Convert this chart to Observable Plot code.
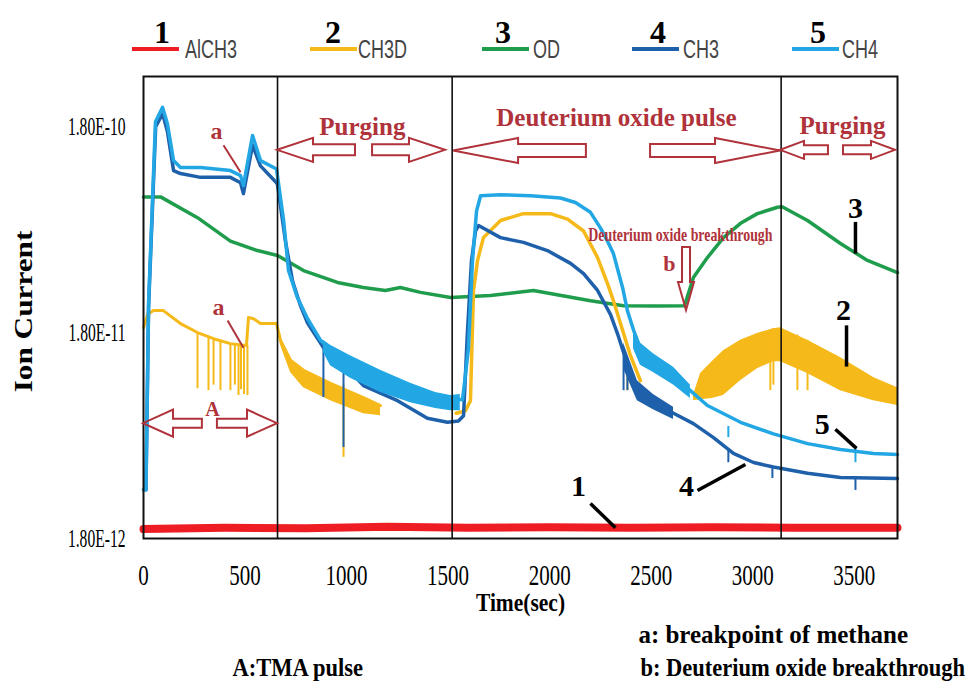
<!DOCTYPE html>
<html><head><meta charset="utf-8">
<script src="https://cdn.jsdelivr.net/npm/d3@7"></script>
<script src="https://cdn.jsdelivr.net/npm/@observablehq/plot@0.6"></script>
<style>
body{margin:0;background:#fff;}
#wrap{position:relative;width:973px;height:686px;overflow:hidden;background:#fff;}
#wrap svg{position:absolute;left:0;top:0;}
.lg-line{position:absolute;height:4px;top:47px;}
.lg-num{position:absolute;width:40px;text-align:center;font:bold 32px "Liberation Serif",serif;line-height:32px;color:#000;top:16px;}
.lg-txt{position:absolute;font:25px "Liberation Sans",sans-serif;line-height:25px;color:#444;transform:scaleX(0.72);transform-origin:left center;white-space:nowrap;top:37px;}
</style></head><body><div id="wrap"></div>
<script>
// ---------- data (time in s, ion current in A) ----------
const xTicks = [0, 500, 1000, 1500, 2000, 2500, 3000, 3500];
const yTicks = [1.8e-12, 1.8e-11, 1.8e-10];
const seriesNames = ["AlCH3", "CH3D", "OD", "CH3", "CH4"];
const seriesNums = ["1", "2", "3", "4", "5"];
const seriesColors = ["#ee1d23", "#f6b91a", "#1f9d4c", "#1f60ab", "#22a7e4"];
const phaseBounds = [660, 1520, 3140];

const alch3 = [[0,2.0e-12],[400,2.03e-12],[800,2.02e-12],[1200,2.05e-12],[1600,2.03e-12],[2000,2.04e-12],[2400,2.03e-12],[2800,2.04e-12],[3200,2.03e-12],[3713,2.03e-12]];

const od = [[0,8.2e-11],[84,8.2e-11],[266,6.5e-11],[428,5.0e-11],[561,4.5e-11],[660,4.26e-11],[788,3.6e-11],[955,3.15e-11],[1083,2.98e-11],[1191,2.88e-11],[1265,2.98e-11],[1364,2.82e-11],[1512,2.66e-11],[1709,2.72e-11],[1920,2.88e-11],[2201,2.57e-11],[2364,2.43e-11],[2521,2.42e-11],[2664,2.43e-11],[2708,3.33e-11],[2777,4.16e-11],[2856,5.2e-11],[2940,6.1e-11],[3023,6.8e-11],[3122,7.3e-11],[3145,7.35e-11],[3270,6.3e-11],[3432,4.87e-11],[3565,4.03e-11],[3713,3.52e-11]];

const ch4 = [[0,3.1e-12],[12,3.1e-12],[25,2.5e-11],[59,1.9e-10],[94,2.23e-10],[118,1.85e-10],[148,1.23e-10],[182,1.14e-10],[281,1.14e-10],[428,1.10e-10],[478,1.04e-10],[492,9.3e-11],[537,1.63e-10],[576,1.23e-10],[655,1.12e-10],[690,6.3e-11],[714,3.6e-11],[758,2.66e-11],[808,2.1e-11],[872,1.65e-11],[921,1.5e-11],[1019,1.32e-11],[1167,1.12e-11],[1315,9.8e-12],[1438,8.9e-12],[1512,8.6e-12],[1571,8.5e-12],[1600,1.5e-11],[1620,4.0e-11],[1640,7.0e-11],[1660,8.3e-11],[1758,8.4e-11],[1906,8.3e-11],[2053,8.1e-11],[2127,7.7e-11],[2201,6.9e-11],[2250,5.8e-11],[2285,5.0e-11],[2314,4.35e-11],[2359,2.98e-11],[2383,2.3e-11],[2413,1.85e-11],[2447,1.5e-11],[2511,1.32e-11],[2610,1.14e-11],[2693,9.4e-12],[2777,7.96e-12],[2940,6.6e-12],[3102,5.8e-12],[3270,5.2e-12],[3432,4.87e-12],[3595,4.66e-12],[3713,4.6e-12]];
const ch4BandA = [[886,1.44e-11,1.65e-11],[921,1.24e-11,1.56e-11],[1019,1.08e-11,1.39e-11],[1167,9.2e-12,1.18e-11],[1315,8.2e-12,1.02e-11],[1438,7.7e-12,9.2e-12],[1512,7.5e-12,8.9e-12],[1560,7.5e-12,9.0e-12]];
const ch4BandB = [[2413,1.5e-11,1.95e-11],[2447,1.25e-11,1.6e-11],[2511,1.15e-11,1.42e-11],[2610,1.0e-11,1.22e-11],[2693,8.6e-12,1.0e-11]];
const ch4Spikes = [[2880,5.56e-12,6.3e-12],[3506,4.2e-12,5.0e-12]];

const ch3 = [[0,3.1e-12],[12,3.1e-12],[25,2.4e-11],[60,1.8e-10],[94,2.08e-10],[118,1.7e-10],[148,1.10e-10],[182,1.064e-10],[281,1.02e-10],[428,1.02e-10],[478,9.6e-11],[492,8.5e-11],[537,1.46e-10],[576,1.16e-10],[655,9.6e-11],[660,9.4e-11],[699,5.0e-11],[734,3.2e-11],[773,2.43e-11],[808,2.0e-11],[886,1.52e-11],[955,1.36e-11],[1083,9.95e-12],[1251,8.4e-12],[1398,6.9e-12],[1497,6.6e-12],[1551,6.7e-12],[1576,7.1e-12],[1595,1.8e-11],[1615,4.0e-11],[1635,5.6e-11],[1650,5.95e-11],[1758,5.2e-11],[1871,4.93e-11],[1989,4.5e-11],[2103,3.9e-11],[2167,3.48e-11],[2236,2.88e-11],[2300,2.2e-11],[2334,1.78e-11],[2364,1.44e-11],[2432,9.4e-12],[2511,8.3e-12],[2610,7.3e-12],[2708,6.5e-12],[2807,5.56e-12],[2905,4.66e-12],[3004,4.21e-12],[3102,4.0e-12],[3270,3.73e-12],[3432,3.56e-12],[3713,3.52e-12]];
const ch3Band = [[2364,1.2e-11,1.6e-11],[2432,8.4e-12,1.05e-11],[2511,7.6e-12,9.0e-12],[2610,6.8e-12,7.8e-12]];
const ch3Spikes = [[886,8.7e-12,1.52e-11],[985,4.98e-12,1.3e-11],[2364,9.4e-12,1.44e-11],[2383,9.4e-12,1.3e-11],[2880,4.2e-12,4.9e-12],[3097,3.52e-12,4.0e-12],[3506,3.08e-12,3.6e-12]];

const ch3dA = [[0,1.9e-11],[20,2.2e-11],[49,2.3e-11],[98,2.3e-11],[182,1.99e-11],[266,1.8e-11],[345,1.68e-11],[428,1.59e-11],[492,1.56e-11],[507,1.56e-11],[517,2.13e-11],[542,2.1e-11],[576,1.99e-11],[655,1.99e-11],[675,1.65e-11],[724,1.32e-11],[788,1.18e-11],[921,1.02e-11],[1083,8.7e-12],[1167,7.96e-12]];
const ch3dB = [[1540,7.3e-12],[1585,7.5e-12],[1610,8.4e-12],[1625,2.88e-11],[1645,4.03e-11],[1674,5.2e-11],[1758,6.3e-11],[1871,6.8e-11],[2004,6.8e-11],[2088,6.4e-11],[2167,5.6e-11],[2236,4.16e-11],[2285,3.11e-11],[2314,2.57e-11],[2349,1.99e-11],[2398,1.39e-11],[2447,1.05e-11]];
const ch3dBandA = [[660,1.8e-11,1.99e-11],[675,1.56e-11,1.65e-11],[724,1.15e-11,1.32e-11],[788,9.7e-12,1.18e-11],[921,8.4e-12,1.02e-11],[1083,7.27e-12,8.7e-12],[1167,7.1e-12,7.96e-12]];
const ch3dBandC = [[2708,8.4e-12,8.9e-12],[2743,8.5e-12,1.14e-11],[2800,8.6e-12,1.3e-11],[2856,8.9e-12,1.47e-11],[2940,1.05e-11,1.65e-11],[3023,1.2e-11,1.78e-11],[3102,1.3e-11,1.88e-11],[3137,1.3e-11,1.9e-11],[3270,1.14e-11,1.65e-11],[3432,9.4e-12,1.36e-11],[3595,8.4e-12,1.09e-11],[3713,7.96e-12,9.7e-12]];
const ch3dSpikes = [[266,9.6e-12,1.8e-11],[320,9.4e-12,1.72e-11],[345,1.0e-11,1.68e-11],[379,9.4e-12,1.64e-11],[428,9.4e-12,1.59e-11],[450,1.0e-11,1.58e-11],[468,8.9e-12,1.57e-11],[480,9.5e-12,1.57e-11],[495,9.0e-12,1.56e-11],[512,8.9e-12,1.56e-11],[985,4.46e-12,1.0e-11],[2383,9.4e-12,1.14e-11],[3087,9.4e-12,1.85e-11],[3102,1.0e-11,1.88e-11],[3220,9.4e-12,1.75e-11],[3270,9.4e-12,1.65e-11]];

// ---------- annotations (data coordinates) ----------
const phaseLabels = [[1078,1.63e-10,"Purging"],[2329,1.82e-10,"Deuterium oxide pulse"],[3442,1.66e-10,"Purging"]];
const breakthroughLabel = [[2644,5.0e-11,"Deuterium oxide breakthrough"]];
const bLabel = [[2590,3.6e-11,"b"]];
const aLabels = [[359,1.57e-10,"a"],[369,2.18e-11,"a"]];
const pulseLabel = [[340,7.1e-12,"A"]];
const aPointers = [[394,1.46e-10,478,1.08e-10],[414,2.06e-11,492,1.52e-11]];
const calloutLabels = [[3506,6.5e-11,"3"],[3447,2.06e-11,"2"],[3343,5.8e-12,"5"],[2674,2.91e-12,"4"],[2142,2.91e-12,"1"]];
const calloutLines = [[3506,6.2e-11,3506,4.35e-11],[3462,1.95e-11,3462,1.23e-11],[3407,6.1e-12,3511,4.93e-12],[2728,3.08e-12,2964,4.12e-12],[2201,2.66e-12,2324,2.03e-12]];
const purgeArrows1 = [[1044,1.38e-10,660,1.38e-10],[1128,1.38e-10,1487,1.38e-10]];
const pulseArrows = [[2181,1.37e-10,1527,1.37e-10],[2497,1.37e-10,3137,1.37e-10]];
const purgeArrows2 = [[3373,1.38e-10,3137,1.38e-10],[3447,1.38e-10,3703,1.38e-10]];
const tmaArrows = [[290,6.5e-12,0,6.5e-12],[364,6.5e-12,660,6.5e-12]];
const bArrow = [[2674,4.66e-11,2674,2.3e-11]];
const notesA = [[2437,"a: breakpoint of methane"]];
const notesB = [[438,"A:TMA pulse"],[2447,"b: Deuterium oxide breakthrough"]];

const annoRed = "#b0323a";
const T = d => d[0], V = d => d[1];

function blockArrows(list, head, headHalf, shaftHalf) {
  return (index, scales) => {
    const g = d3.create("svg:g").attr("fill", "none").attr("stroke", annoRed)
      .attr("stroke-width", 2).attr("stroke-linejoin", "miter");
    for (const [t0, v0, t1, v1] of list) {
      const x0 = scales.x(t0), y0 = scales.y(v0), x1 = scales.x(t1), y1 = scales.y(v1);
      const L = Math.hypot(x1 - x0, y1 - y0), ux = (x1 - x0) / L, uy = (y1 - y0) / L;
      const nx = -uy, ny = ux;
      const bx = x1 - ux * head, by = y1 - uy * head;
      const pts = [
        [x0 + nx * shaftHalf, y0 + ny * shaftHalf], [bx + nx * shaftHalf, by + ny * shaftHalf],
        [bx + nx * headHalf, by + ny * headHalf], [x1, y1],
        [bx - nx * headHalf, by - ny * headHalf], [bx - nx * shaftHalf, by - ny * shaftHalf],
        [x0 - nx * shaftHalf, y0 - ny * shaftHalf]
      ];
      g.append("path").attr("d", d3.line()(pts) + "Z");
    }
    return g.node();
  };
}

const band = (data, color) => Plot.areaY(data, {x: d => d[0], y1: d => d[1], y2: d => d[2], fill: color, curve: "linear"});
const spikes = (data, color) => Plot.ruleX(data, {x: d => d[0], y1: d => d[1], y2: d => d[2], stroke: color, strokeWidth: 2});

const chart = Plot.plot({
  width: 973, height: 686,
  marginLeft: 143, marginRight: 76, marginTop: 76, marginBottom: 148,
  style: {fontFamily: '"Liberation Serif", serif', background: "white", color: "black"},
  x: {domain: [0, 3713]},
  y: {type: "log", domain: [1.8e-12, 3.15e-10]},
  marks: [
    Plot.axisX({ticks: xTicks, tickSize: 0, tickPadding: 25, tickFormat: d => String(d), fontSize: 30, label: null}),
    Plot.axisY({ticks: yTicks, tickSize: 0, tickPadding: 18, tickFormat: d => d.toExponential(2).toUpperCase(), fontSize: 26, label: null}),
    // traces
    Plot.line(od, {x: T, y: V, stroke: seriesColors[2], strokeWidth: 3.5}),
    band(ch3dBandA, seriesColors[1]),
    band(ch3dBandC, seriesColors[1]),
    spikes(ch3dSpikes, seriesColors[1]),
    Plot.line(ch3dA, {x: T, y: V, stroke: seriesColors[1], strokeWidth: 3}),
    Plot.line(ch3dB, {x: T, y: V, stroke: seriesColors[1], strokeWidth: 3.5}),
    band(ch3Band, seriesColors[3]),
    spikes(ch3Spikes, seriesColors[3]),
    Plot.line(ch3, {x: T, y: V, stroke: seriesColors[3], strokeWidth: 3.5}),
    band(ch4BandA, seriesColors[4]),
    band(ch4BandB, seriesColors[4]),
    spikes(ch4Spikes, seriesColors[4]),
    Plot.line(ch4, {x: T, y: V, stroke: seriesColors[4], strokeWidth: 3.5}),
    Plot.line(alch3, {x: T, y: V, stroke: seriesColors[0], strokeWidth: 8}),
    // phase separators and frame
    Plot.ruleX(phaseBounds, {stroke: "#111", strokeWidth: 1.6}),
    Plot.frame({stroke: "#111", strokeWidth: 2}),
    // annotations
    blockArrows(purgeArrows1, 36, 12, 5.5),
    blockArrows(pulseArrows, 65, 12.5, 6.5),
    blockArrows(purgeArrows2, 24, 9, 4.5),
    blockArrows(tmaArrows, 30, 13.5, 4.5),
    blockArrows(bArrow, 28, 8, 4),
    Plot.text(phaseLabels, {x: T, y: V, text: d => d[2], fill: annoRed, fontSize: 25, fontWeight: "bold", lineAnchor: "bottom"}),
    Plot.text(breakthroughLabel, {x: T, y: V, text: d => d[2], fill: annoRed, fontSize: 18, fontWeight: "bold", lineAnchor: "bottom"}),
    Plot.text(bLabel, {x: T, y: V, text: d => d[2], fill: annoRed, fontSize: 22, fontWeight: "bold", lineAnchor: "bottom"}),
    Plot.text(aLabels, {x: T, y: V, text: d => d[2], fill: annoRed, fontSize: 24, fontWeight: "bold", lineAnchor: "bottom"}),
    Plot.text(pulseLabel, {x: T, y: V, text: d => d[2], fill: annoRed, fontSize: 20, fontWeight: "bold", lineAnchor: "bottom"}),
    Plot.link(aPointers, {x1: d => d[0], y1: d => d[1], x2: d => d[2], y2: d => d[3], stroke: annoRed, strokeWidth: 2}),
    Plot.link(calloutLines, {x1: d => d[0], y1: d => d[1], x2: d => d[2], y2: d => d[3], stroke: "#000", strokeWidth: 3.5}),
    Plot.text(calloutLabels, {x: T, y: V, text: d => d[2], fill: "#000", fontSize: 30, fontWeight: "bold", lineAnchor: "bottom"}),
    // axis titles and notes
    Plot.text(["Time(sec)"], {text: d => d, frameAnchor: "bottom", dy: 72, lineAnchor: "bottom", textAnchor: "middle", fontSize: 25, fontWeight: "bold", fill: "#000"}),
    Plot.text(["Ion Current"], {text: d => d, frameAnchor: "left", dx: -120, dy: 4, rotate: -90, textAnchor: "middle", lineAnchor: "middle", fontSize: 25, fontWeight: "bold", fill: "#000"}),
    Plot.text(notesA, {x: d => d[0], text: d => d[1], frameAnchor: "bottom", dy: 104, lineAnchor: "bottom", textAnchor: "start", fontSize: 25, fontWeight: "bold", fill: "#000"}),
    Plot.text(notesB, {x: d => d[0], text: d => d[1], frameAnchor: "bottom", dy: 137, lineAnchor: "bottom", textAnchor: "start", fontSize: 25, fontWeight: "bold", fill: "#000"})
  ]
});

function squeezeEl(t, sx) {
  const tr = t.getAttribute("transform");
  if (tr) t.setAttribute("transform", tr + ` scale(${sx},1)`);
  else {
    const x = parseFloat(t.getAttribute("x")) || 0;
    t.setAttribute("transform", `translate(${x},0) scale(${sx},1) translate(${-x},0)`);
  }
}
chart.querySelectorAll('[aria-label^="x-axis"] text').forEach(t => squeezeEl(t, 0.7));
chart.querySelectorAll('[aria-label^="y-axis"] text').forEach(t => squeezeEl(t, 0.6));
const textScale = {"Time(sec)": 0.86, "Ion Current": 1.25, "Deuterium oxide breakthrough": 0.77, "A:TMA pulse": 0.9, "b: Deuterium oxide breakthrough": 0.9};
chart.querySelectorAll("text").forEach(t => {
  const s = textScale[t.textContent];
  if (s) squeezeEl(t, s);
});

const wrap = document.getElementById("wrap");
wrap.appendChild(chart);

// legend
const legendX = [132, 310, 482, 632, 792];
const legendNumX = [162, 333, 503, 658, 818];
const legendTxtX = [185, 358, 533, 683, 842];
seriesNames.forEach((name, i) => {
  const ln = document.createElement("div");
  ln.className = "lg-line";
  ln.style.left = legendX[i] + "px";
  ln.style.width = "47px";
  ln.style.background = seriesColors[i];
  wrap.appendChild(ln);
  const num = document.createElement("div");
  num.className = "lg-num";
  num.style.left = (legendNumX[i] - 20) + "px";
  num.textContent = seriesNums[i];
  wrap.appendChild(num);
  const tx = document.createElement("div");
  tx.className = "lg-txt";
  tx.style.left = legendTxtX[i] + "px";
  tx.textContent = name;
  wrap.appendChild(tx);
});
</script></body></html>
